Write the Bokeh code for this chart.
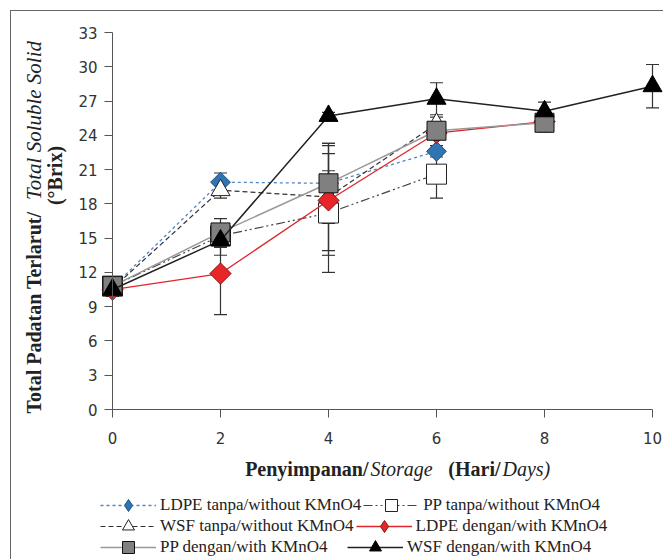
import math
from bokeh.plotting import figure
from bokeh.models import (ColumnDataSource, Legend, LegendItem, Label, Whisker,
                          TeeHead, FixedTicker)
from bokeh.embed import file_html
from bokeh.resources import INLINE

# ---------------- data ----------------
days_4 = [0, 2, 4, 6]
days_5 = [0, 2, 4, 6, 8]
days_6 = [0, 2, 4, 6, 8, 10]

ldpe_tanpa = [10.7, 19.9, 19.8, 22.6]
ldpe_tanpa_err = [0.6, 0.8, 3.5, 0.5]
pp_tanpa = [10.8, 15.2, 17.2, 20.6]
pp_tanpa_err = [0.6, 1.0, 5.2, 2.1]
wsf_tanpa = [10.6, 19.2, 18.6, 25.0]
wsf_tanpa_err = [0.6, 0.7, 4.7, 0.6]
ldpe_dengan = [10.5, 11.9, 18.3, 24.2, 25.2]
ldpe_dengan_err = [0.5, 3.6, 4.8, 0.5, 0.5]
pp_dengan = [10.8, 15.5, 19.8, 24.4, 25.1]
pp_dengan_err = [0.6, 1.2, 1.1, 0.6, 0.8]
wsf_dengan = [10.5, 14.8, 25.7, 27.2, 26.1, 28.3]
wsf_dengan_err = [0.6, 1.3, 0.3, 1.4, 0.8, 1.9]

labels = ["LDPE tanpa/without KMnO4", "PP tanpa/without KMnO4",
          "WSF tanpa/without KMnO4", "LDPE dengan/with KMnO4",
          "PP dengan/with KMnO4", "WSF dengan/with KMnO4"]

y_ticks = [0, 3, 6, 9, 12, 15, 18, 21, 24, 27, 30, 33]
x_ticks = [0, 2, 4, 6, 8, 10]

SERIF = "'Liberation Serif', serif"
TICKFONT = "DejaVu Sans"

# canvas 653x549 placed at page offset (11, 11); plot area page x 112..652, y 32..409
W, H = 653, 549
PX = 54.0                      # px per day
PY = 377.0 / 33.0              # px per Brix unit
x0 = -(112 - 11) / PX
x1 = 10 + (W + 11 - 652) / PX
y0 = -(560 - 409) / PY
y1 = 33 + (32 - 11) / PY

p = figure(width=W, height=H, x_range=(x0, x1), y_range=(y0, y1),
           output_backend="svg", toolbar_location=None, min_border=0)
p.styles = {"margin-left": "10px", "margin-top": "10px",
            "border-left": "1px solid #666", "border-top": "1px solid #666"}
p.outline_line_color = None
p.grid.visible = False

for ax in (p.xaxis[0], p.yaxis[0]):
    ax.fixed_location = 0
    ax.axis_line_color = "#555"
    ax.major_tick_line_color = "#555"
    ax.minor_tick_line_color = None
    ax.major_tick_out = 8
    ax.major_tick_in = 0
    ax.major_label_text_font = TICKFONT
    ax.major_label_text_font_size = "15px"
    ax.major_label_text_color = "#333"
p.xaxis[0].ticker = FixedTicker(ticks=x_ticks)
p.yaxis[0].ticker = FixedTicker(ticks=y_ticks)
p.xaxis[0].bounds = (0, 10)
p.yaxis[0].bounds = (0, 33)
p.xaxis[0].major_label_standoff = 14
p.yaxis[0].major_label_standoff = 7

series = [
    (days_4, ldpe_tanpa, ldpe_tanpa_err, dict(line_color="#4f86c0", line_dash="3 3", line_width=1.3),
     dict(marker="square", angle=math.pi / 4, size=14, fill_color="#2f74b5", line_color="#1f4f80")),
    (days_4, pp_tanpa, pp_tanpa_err, dict(line_color="#444", line_dash="9 3 2 3 2 3", line_width=1.2),
     dict(marker="square", size=20, fill_color="white", line_color="#222")),
    (days_4, wsf_tanpa, wsf_tanpa_err, dict(line_color="#333", line_dash="5 3", line_width=1.2),
     dict(marker="triangle", size=19, fill_color="white", line_color="#222")),
    (days_5, ldpe_dengan, ldpe_dengan_err, dict(line_color="#e0262b", line_width=1.3),
     dict(marker="square", angle=math.pi / 4, size=15, fill_color="#e8262a", line_color="#8a1010")),
    (days_5, pp_dengan, pp_dengan_err, dict(line_color="#999", line_width=1.5),
     dict(marker="square", size=19, fill_color="#808080", line_color="#111")),
    (days_6, wsf_dengan, wsf_dengan_err, dict(line_color="#222", line_width=1.5),
     dict(marker="triangle", size=19, fill_color="black", line_color="black")),
]

items = []
for (xs, ys, es, lk, mk), lab in zip(series, labels):
    src = ColumnDataSource(dict(x=xs, y=ys,
                                lo=[a - b for a, b in zip(ys, es)],
                                hi=[a + b for a, b in zip(ys, es)]))
    w = Whisker(source=src, base="x", lower="lo", upper="hi",
                line_color="#333", line_width=1.2,
                upper_head=TeeHead(size=13, line_color="#333", line_width=1.2),
                lower_head=TeeHead(size=13, line_color="#333", line_width=1.2))
    p.add_layout(w)
    lr = p.line("x", "y", source=src, **lk)
    if mk.get("angle"):
        # diamond shown in the legend (covered on the plot by the rotated square)
        leg_r = p.scatter("x", "y", source=src, marker="diamond", size=11,
                          fill_color=mk["fill_color"], line_color=mk["line_color"])
        p.scatter("x", "y", source=src, **mk)
    else:
        leg_r = p.scatter("x", "y", source=src, **mk)
    items.append(LegendItem(label=lab, renderers=[lr, leg_r]))

# legend: one Legend per row (2 entries each), rows centred at page y 505, 526, 547
GH = 30
for row, cy in enumerate([505, 526, 547]):
    legend = Legend(items=items[2 * row:2 * row + 2],
                    location=(100 - 11, 560 - (cy + GH // 2)),
                    orientation="horizontal", ncols=2,
                    label_text_font=SERIF, label_text_font_size="17px",
                    label_text_color="#222", glyph_width=56, glyph_height=GH,
                    label_height=20, label_width=185, label_standoff=4, spacing=2,
                    padding=0, margin=0, border_line_alpha=0, background_fill_alpha=0)
    p.add_layout(legend)

# ---------- axis titles (mixed bold/italic), positions in page pixels ----------
def lab(text, px, py, style, align, angle=0.0, size="20px"):
    p.add_layout(Label(x=px - 11, y=560 - py, x_units="screen", y_units="screen", text=text,
                       text_font=SERIF, text_font_style=style, text_font_size=size,
                       text_color="#222", text_align=align, text_baseline="middle",
                       angle=angle))

lab("Penyimpanan/", 368, 468, "bold", "right")
lab("Storage", 370, 468, "italic", "left")
lab("(Hari/", 500, 468, "bold", "right")
lab("Days)", 502, 468, "italic", "left")

lab("Total Padatan Terlarut/", 33, 413, "bold", "left", math.pi / 2)
lab("Total Soluble Solid", 33, 120, "italic", "center", math.pi / 2, size="21px")
lab("(°Brix)", 54, 175, "bold", "center", math.pi / 2)

open("out.html", "w").write(file_html(p, INLINE))
